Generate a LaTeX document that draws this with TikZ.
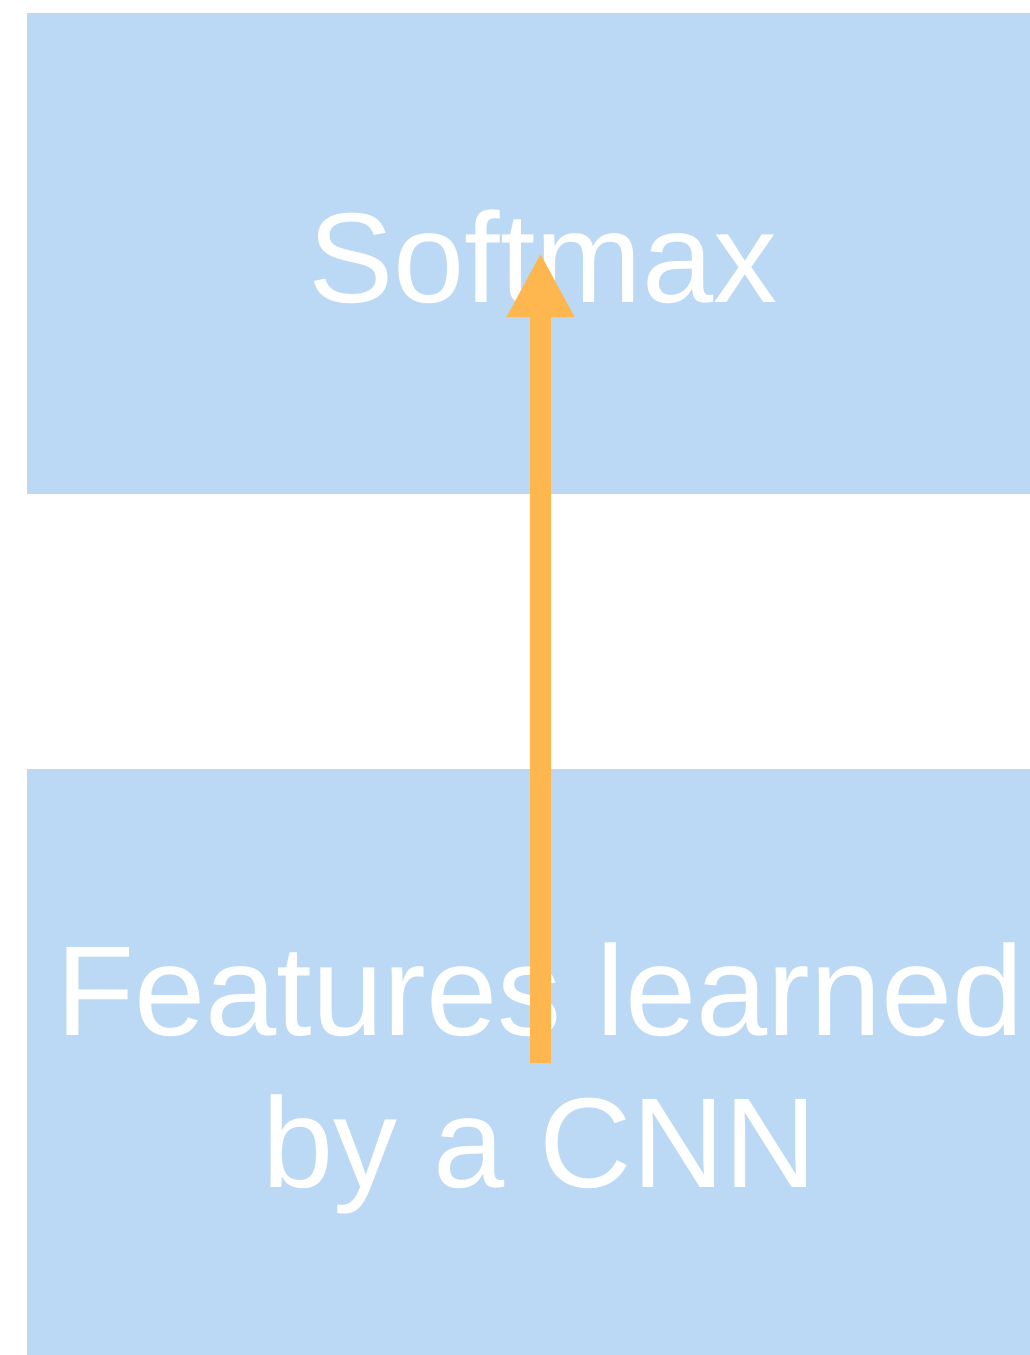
\documentclass[tikz,border=0pt]{standalone}
\usepackage{fontspec}
\setmainfont{Liberation Sans}
\usetikzlibrary{arrows.meta}
\definecolor{boxblue}{RGB}{187,217,245}
\definecolor{flow}{RGB}{253,183,78}
\begin{document}
\begin{tikzpicture}[x=1pt,y=1pt,
  layer/.style={fill=boxblue,draw=none,rectangle,inner sep=0pt,minimum width=1027pt},
  caption/.style={text=white,font=\fontsize{128}{152}\selectfont,align=center,inner sep=0pt},
  flowarrow/.style={draw=flow,line width=21pt,-{Triangle[length=64pt,width=63pt]}}]
  \useasboundingbox (0,0) rectangle (1030,-1355);
  \clip (0,0) rectangle (1030,-1355);
  % the two stages
  \node[layer,minimum height=481pt] (top) at (540.5,-253.5) {};
  \node[layer,minimum height=586pt] (bottom) at (540.5,-1062) {};
  % stage captions
  \node[caption,anchor=base] (softmax) at (543,-302) {Softmax};
  \node[caption,anchor=base] (features) at (540,-1035) {Features learned};
  \node[caption,anchor=base] (cnn) at (540,-1187) {by a CNN};
  % flow from features to the classifier
  \coordinate (start) at (540.5,-1063);
  \coordinate (tip) at (540.5,-253);
  \draw[flowarrow] (start) -- (tip);
\end{tikzpicture}
\end{document}
